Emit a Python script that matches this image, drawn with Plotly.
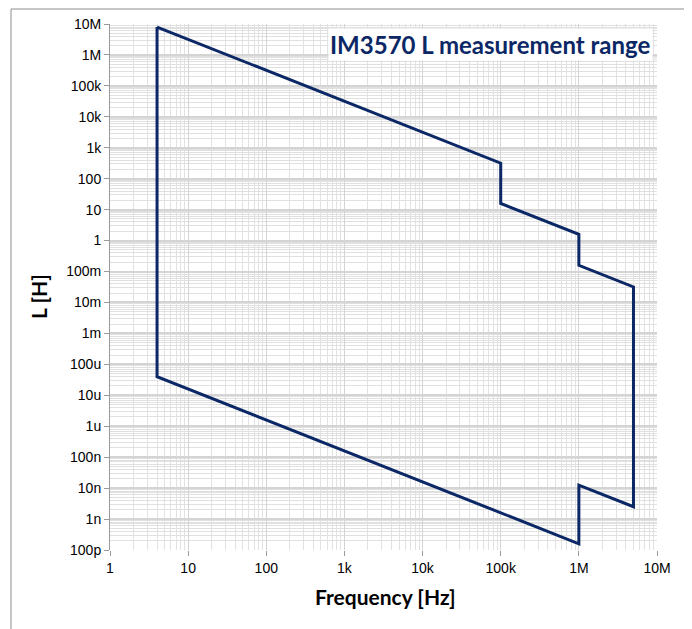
import plotly.graph_objects as go

# Boundary of the L measurement range (frequency in Hz, inductance in H)
freq = [4, 1e5, 1e5, 1e6, 1e6, 5e6, 5e6, 1e6, 1e6, 4, 4]
induct = [7.96e6, 318, 15.9, 1.59, 0.159, 0.0318, 2.5e-9, 1.25e-8, 1.59e-10, 3.98e-5, 7.96e6]

x_tickvals = [1, 10, 100, 1e3, 1e4, 1e5, 1e6, 1e7]
x_ticktext = ["1", "10", "100", "1k", "10k", "100k", "1M", "10M"]
y_tickvals = [1e-10, 1e-9, 1e-8, 1e-7, 1e-6, 1e-5, 1e-4, 1e-3, 1e-2, 1e-1,
              1, 10, 100, 1e3, 1e4, 1e5, 1e6, 1e7]
y_ticktext = ["100p", "1n", "10n", "100n", "1u", "10u", "100u", "1m", "10m", "100m",
              "1", "10", "100", "1k", "10k", "100k", "1M", "10M"]

title_text = "IM3570 L measurement range"
x_title = "Frequency [Hz]"
y_title = "L [H]"

navy = "#0b2765"

fig = go.Figure()
fig.add_trace(go.Scatter(x=freq, y=induct, mode="lines",
                         line=dict(color=navy, width=3), showlegend=False))

OFF = 8  # page body margin
W, H = 684, 621
L, R, T, B = 102, 35, 16, 79
pw, ph = W - L - R, H - T - B

def px_x(p):
    return (p - OFF - L) / pw

def px_y(p):
    return (H - B - (p - OFF)) / ph

fig.update_layout(
    width=W, height=H,
    margin=dict(l=L, r=R, t=T, b=B, autoexpand=False),
    paper_bgcolor="white", plot_bgcolor="white",
    font=dict(family="Liberation Sans, Arial, sans-serif", color="#000000", size=14),
    xaxis=dict(type="log", range=[0, 7], tickvals=x_tickvals, ticktext=x_ticktext,
               showgrid=True, gridcolor="#d4d4d4", gridwidth=1.2,
               ticks="outside", ticklen=5, tickcolor="#9a9a9a",
               showline=False, zeroline=False, automargin=False,
               minor=dict(showgrid=True, gridcolor="#e2e2e2", gridwidth=1,
                          dtick="D1", ticks="")),
    yaxis=dict(type="log", range=[-10, 7], tickvals=y_tickvals, ticktext=y_ticktext,
               showgrid=True, gridcolor="#d4d4d4", gridwidth=2,
               ticks="outside", ticklen=5, tickcolor="#9a9a9a",
               showline=True, linecolor="#9a9a9a", linewidth=1, zeroline=False,
               automargin=False,
               minor=dict(showgrid=True, gridcolor="#e0e0e0", gridwidth=1,
                          dtick="D1", ticks="")),
)

fig.add_annotation(text=f"<b>{title_text}</b>", xref="paper", yref="paper",
                   x=px_x(653), y=px_y(45), xanchor="right", yanchor="middle",
                   showarrow=False, bgcolor="white",
                   font=dict(family="Lato, Open Sans, sans-serif", size=24, color=navy))
fig.add_annotation(text=f"<b>{x_title}</b>", xref="paper", yref="paper",
                   x=px_x(385), y=px_y(596), xanchor="center", yanchor="middle",
                   showarrow=False,
                   font=dict(family="Lato, Open Sans, sans-serif", size=21, color="#000000"))
fig.add_annotation(text=f"<b>{y_title}</b>", xref="paper", yref="paper",
                   x=px_x(38), y=px_y(297), xanchor="center", yanchor="middle",
                   textangle=-90, showarrow=False,
                   font=dict(family="Lato, Open Sans, sans-serif", size=21, color="#000000"))

# chart area border
fig.add_shape(type="rect", xref="paper", yref="paper",
              x0=px_x(11), x1=px_x(688), y0=px_y(660), y1=px_y(9),
              line=dict(color="#8c8c8c", width=1), fillcolor="rgba(0,0,0,0)", layer="below")

fig.write_html("out.html")
